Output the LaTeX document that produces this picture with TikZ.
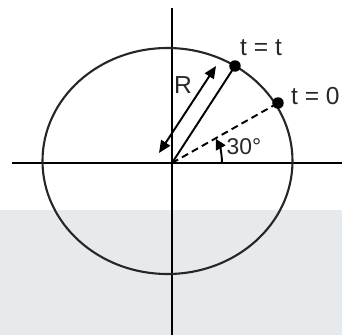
\documentclass[tikz,border=0pt]{standalone}
\usepackage{fontspec}
\setmainfont{Liberation Sans}
\definecolor{inkgray}{RGB}{40,40,40}
\definecolor{paleback}{RGB}{231,234,237}
\usetikzlibrary{arrows.meta,calc}
\tikzset{
  axis/.style={line width=1.2pt,black},
  rim/.style={line width=1.2pt,black!85},
  radline/.style={line width=1.1pt,black},
  dot/.style={circle,fill=black,inner sep=0pt,minimum size=0.23cm},
  dimarr/.style={{Triangle[length=7pt,width=6pt]}-{Triangle[length=7pt,width=6pt]},line width=1.1pt},
  lbl/.style={text=inkgray,font=\fontsize{14}{16}\selectfont,inner sep=0pt},
}

\begin{document}
\begin{tikzpicture}[x=0.02cm,y=0.02cm]
  \useasboundingbox (-172,-172) rectangle (170,163);
  \fill[paleback] (-172,-172) rectangle (170,-47);
  % axes
  \coordinate (O) at (0,0);
  \draw[axis] (-160,0) -- (170,0);
  \draw[axis] (0,155) -- (0,-172);
  % circle
  \draw[rim] (-4.5,2) ellipse [x radius=125,y radius=113];
  % points on the circle
  \node[dot] (p0) at (106,60) {};
  \node[dot] (pt) at (63,97) {};
  \draw[radline,dashed,dash pattern=on 4pt off 2.5pt] (O) -- (p0.center);
  \draw[radline] (O) -- (pt.center);
  % radius arrow
  \coordinate (ra) at (-13,10);
  \coordinate (rb) at (44,97);
  \draw[dimarr] (ra) -- (rb);
  % angle
  \draw[line width=1.1pt,-{Triangle[length=6pt,width=6pt]}] (50,0) arc[start angle=0,end angle=29,radius=50];
  % labels
  \node[lbl] (lr) at (11,78) {R};
  \node[lbl,font=\fontsize{13}{15}\selectfont] (la) at (72,16) {30°};
  \node[lbl] (lt) at (89,115) {t = t};
  \node[lbl,anchor=east] (l0) at (168,67) {t = 0};
\end{tikzpicture}
\end{document}
